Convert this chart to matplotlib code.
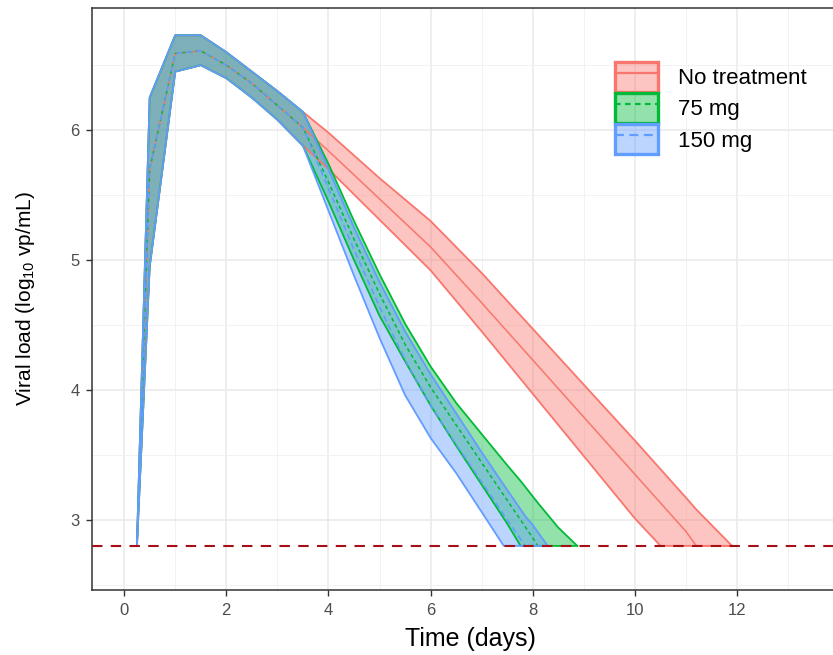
import matplotlib.pyplot as plt
from matplotlib.colors import to_rgba
from matplotlib.legend_handler import HandlerTuple
from matplotlib.lines import Line2D
from matplotlib.patches import Patch
from matplotlib.ticker import FixedLocator, MultipleLocator

plt.rcParams['font.family'] = ['Liberation Sans', 'DejaVu Sans']
plt.rcParams['mathtext.fontset'] = 'custom'
plt.rcParams['mathtext.rm'] = 'Liberation Sans'

LLOQ = 2.8

# shared part of the curve (all groups identical up to day 3.5)
t_common = [0.25, 0.5, 1, 1.5, 2, 2.5, 3, 3.5]
hi_common = [2.8, 6.25, 6.73, 6.73, 6.60, 6.45, 6.30, 6.14]
med_common = [2.8, 5.70, 6.59, 6.61, 6.50, 6.36, 6.19, 6.02]
lo_common = [2.8, 4.95, 6.45, 6.50, 6.40, 6.25, 6.08, 5.88]

# no treatment
t_none = [4, 5, 6, 7, 8, 9, 10, 10.5, 11, 11.2, 11.9]
hi_none = [5.98, 5.63, 5.30, 4.90, 4.47, 4.04, 3.61, 3.39, 3.17, 3.08, 2.8]
med_none = [5.84, 5.47, 5.10, 4.67, 4.23, 3.79, 3.35, 3.13, 2.91, 2.8, 2.8]
lo_none = [5.70, 5.31, 4.92, 4.45, 3.97, 3.49, 3.01, 2.8, 2.8, 2.8, 2.8]

# 75 mg
t_75 = [4, 4.5, 5, 5.5, 6, 6.5, 7, 7.5, 7.76, 8, 8.1, 8.5, 8.87]
hi_75 = [5.74, 5.30, 4.89, 4.51, 4.18, 3.90, 3.66, 3.42, 3.30, 3.18, 3.13, 2.94, 2.8]
med_75 = [5.60, 5.16, 4.74, 4.35, 4.02, 3.73, 3.44, 3.15, 3.0, 2.86, 2.8, 2.8, 2.8]
lo_75 = [5.45, 5.00, 4.57, 4.22, 3.88, 3.57, 3.27, 2.97, 2.8, 2.8, 2.8, 2.8, 2.8]

# 150 mg
t_150 = [4, 4.5, 5, 5.5, 6, 6.5, 7, 7.43, 7.5, 7.85, 8, 8.29]
hi_150 = [5.70, 5.25, 4.83, 4.45, 4.12, 3.82, 3.52, 3.27, 3.23, 3.03, 2.96, 2.8]
med_150 = [5.55, 5.08, 4.64, 4.23, 3.88, 3.58, 3.29, 3.04, 3.0, 2.8, 2.8, 2.8]
lo_150 = [5.38, 4.88, 4.40, 3.96, 3.63, 3.36, 3.06, 2.8, 2.8, 2.8, 2.8, 2.8]

x_ticks = [0, 2, 4, 6, 8, 10, 12]

groups = [
    ("No treatment", "#F8766D", "-", t_none, lo_none, med_none, hi_none),
    ("75 mg", "#00BA38", (0, (2.5, 2)), t_75, lo_75, med_75, hi_75),
    ("150 mg", "#619CFF", (0, (4, 2.5)), t_150, lo_150, med_150, hi_150),
]

fig = plt.figure(figsize=(8.33, 6.55), dpi=100)
ax = fig.add_axes([0.1104, 0.0992, 0.9076, 0.8886])

handles = []
for name, col, ls, t, lo, med, hi in groups:
    x = t_common + t
    ylo = lo_common + lo
    ymed = med_common + med
    yhi = hi_common + hi
    ax.fill_between(x, ylo, yhi, color=col, alpha=0.42, lw=0, zorder=2)
    ax.plot(x, ylo, color=col, lw=1.3, zorder=3)
    ax.plot(x, yhi, color=col, lw=1.3, zorder=3)
    ax.plot(x, ymed, color=col, lw=1.1, ls=ls, zorder=3)
    handles.append((Patch(facecolor=to_rgba(col, 0.42), edgecolor=col, lw=2.4),
                    Line2D([], [], color=col, lw=1.6, ls=ls)))

ax.axhline(LLOQ, color='#A50F15', lw=1.5, ls=(0, (5, 4)), zorder=4)

ax.set_xlim(-0.63, 14.17)
ax.set_ylim(2.46, 6.94)
ax.xaxis.set_major_locator(FixedLocator(x_ticks))
ax.xaxis.set_minor_locator(MultipleLocator(1))
ax.yaxis.set_major_locator(MultipleLocator(1))
ax.yaxis.set_minor_locator(MultipleLocator(0.5))
ax.grid(which='major', color='#EBEBEB', lw=1.2, zorder=0)
ax.grid(which='minor', color='#F2F2F2', lw=0.7, zorder=0)
ax.set_axisbelow(True)
ax.tick_params(which='minor', length=0)
ax.tick_params(which='major', length=4, width=1.0, color='#333333',
               labelcolor='#4D4D4D', labelsize=12, pad=5)
for s in ax.spines.values():
    s.set_color('#333333')
    s.set_linewidth(1.1)

ax.set_xlabel("Time (days)", fontsize=18, color='black')
ax.set_ylabel("Viral load (log$_{10}$ vp/mL)", fontsize=15, color='black')
ax.xaxis.set_label_coords(0.5, -0.063)
ax.yaxis.set_label_coords(-0.073, 0.5)

ax.legend(handles, [g[0] for g in groups], loc='upper left',
          bbox_to_anchor=(0.692, 0.907), frameon=False, fontsize=16,
          handlelength=1.94, handleheight=1.7, labelspacing=0.05,
          handletextpad=0.9, borderpad=0, borderaxespad=0,
          handler_map={tuple: HandlerTuple(ndivide=1)})

fig.savefig("out.png", dpi=100)
